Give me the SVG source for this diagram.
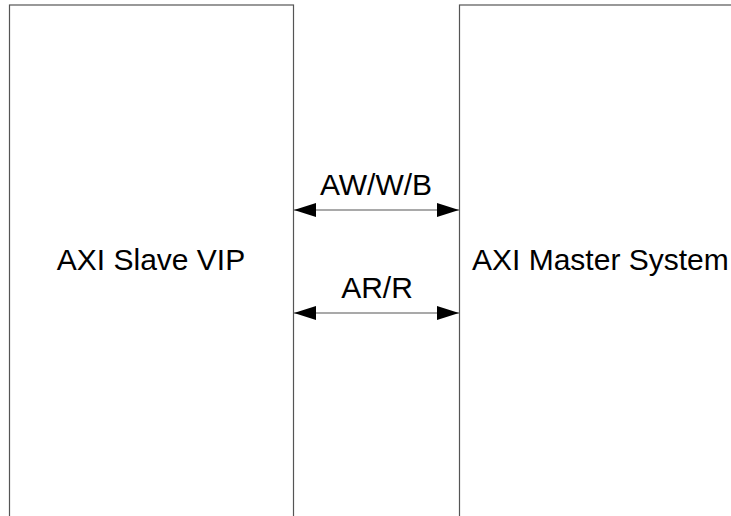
<svg xmlns="http://www.w3.org/2000/svg" width="731" height="516" viewBox="0 0 731 516">
<defs>
<style>
.box{fill:#fff;stroke:#555;stroke-width:1.2}
.lbl{font-family:"Liberation Sans",Arial,sans-serif;font-size:30px;fill:#000}
.conn{stroke:#555;stroke-width:1.2;fill:none}
</style>
<marker id="ah" viewBox="0 0 22 14" refX="22" refY="7" markerWidth="22" markerHeight="14" markerUnits="userSpaceOnUse" orient="auto-start-reverse">
<path d="M0,0 L22,7 L0,14 Z" fill="#000"/>
</marker>
</defs>
<rect width="731" height="516" fill="#fff"/>
<g id="slave">
<rect class="box" x="9.5" y="5" width="284" height="530"/>
<text class="lbl" x="151" y="270" text-anchor="middle">AXI Slave VIP</text>
</g>
<g id="master">
<rect class="box" x="459.5" y="5" width="300" height="530"/>
<text class="lbl" x="472" y="270">AXI Master System</text>
</g>
<g id="connectors">
<line class="conn" x1="294" y1="210" x2="459" y2="210" marker-start="url(#ah)" marker-end="url(#ah)"/>
<text class="lbl" x="376" y="195" text-anchor="middle">AW/W/B</text>
<line class="conn" x1="294" y1="313" x2="459" y2="313" marker-start="url(#ah)" marker-end="url(#ah)"/>
<text class="lbl" x="377" y="298" text-anchor="middle">AR/R</text>
</g>
</svg>
